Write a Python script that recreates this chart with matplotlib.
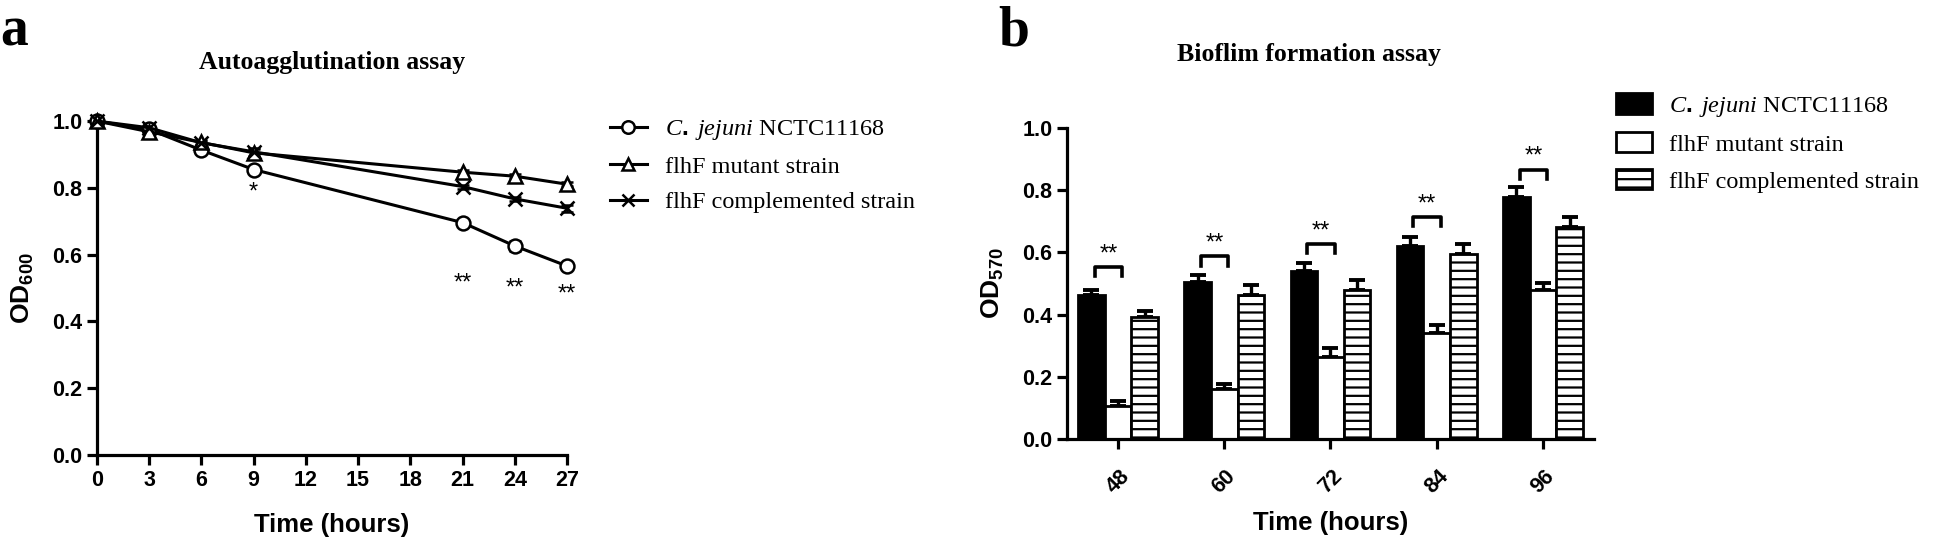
import matplotlib.pyplot as plt
from matplotlib.lines import Line2D
import numpy as np

plt.rcParams['font.family'] = 'Liberation Sans'
plt.rcParams['mathtext.fontset'] = 'custom'
plt.rcParams['mathtext.rm'] = 'Liberation Sans:bold'
plt.rcParams['mathtext.bf'] = 'Liberation Sans:bold'
plt.rcParams['mathtext.it'] = 'Liberation Serif:italic'
plt.rcParams['hatch.linewidth'] = 1.6

# ---- panel a: autoagglutination ----
hours = [0, 3, 6, 9, 21, 24, 27]
wt_od = [1.0, 0.975, 0.913, 0.855, 0.696, 0.626, 0.566]
wt_err = [0.004, 0.005, 0.006, 0.008, 0.008, 0.016, 0.008]
mut_od = [1.0, 0.968, 0.936, 0.905, 0.847, 0.835, 0.811]
mut_err = [0.004, 0.008, 0.006, 0.012, 0.008, 0.006, 0.006]
comp_od = [1.0, 0.98, 0.935, 0.908, 0.804, 0.767, 0.739]
comp_err = [0.004, 0.006, 0.006, 0.012, 0.006, 0.006, 0.010]
sig_a_x = [9, 21, 24, 27]
sig_a_y = [0.785, 0.515, 0.5, 0.48]
sig_a_txt = ['*', '**', '**', '**']

# ---- panel b: biofilm ----
groups = ['48', '60', '72', '84', '96']
wt_bio = [0.463, 0.506, 0.541, 0.621, 0.779]
wt_bio_err = [0.017, 0.021, 0.026, 0.029, 0.031]
mut_bio = [0.106, 0.162, 0.263, 0.340, 0.479]
mut_bio_err = [0.016, 0.016, 0.029, 0.026, 0.024]
comp_bio = [0.393, 0.464, 0.480, 0.596, 0.681]
comp_bio_err = [0.019, 0.031, 0.030, 0.031, 0.031]
bracket_y = [0.553, 0.587, 0.627, 0.714, 0.866]
bracket_txt = ['**', '**', '**', '**', '**']

labels = [r'$C.\ jejuni$ NCTC11168', 'flhF mutant strain', 'flhF complemented strain']

fig = plt.figure(figsize=(19.46, 5.43), dpi=100)
LW = 2.3
LEG_FONT = {'family': 'Liberation Serif', 'size': 17.5}


def style_axes(ax):
    for s in ['top', 'right']:
        ax.spines[s].set_visible(False)
    for s in ['left', 'bottom']:
        ax.spines[s].set_linewidth(LW)
    ax.tick_params(width=LW, length=7, labelsize=15.5)
    for t in ax.get_xticklabels() + ax.get_yticklabels():
        t.set_fontweight('bold')


ax1 = fig.add_axes([0.0498, 0.162, 0.2416, 0.615])
kw = dict(color='black', lw=2.2, ms=10, mfc='white', mew=1.8, capsize=4,
          elinewidth=1.8, capthick=1.8, clip_on=False, zorder=3)
markers = ['o', '^', 'x']
for vals, errs, m in zip([wt_od, mut_od, comp_od], [wt_err, mut_err, comp_err], markers):
    ax1.errorbar(hours, vals, yerr=errs, marker=m, **kw)
for x, y, t in zip(sig_a_x, sig_a_y, sig_a_txt):
    ax1.text(x, y, t, ha='center', va='center', fontsize=17)
ax1.set_xlim(0, 27)
ax1.set_ylim(0, 1.0)
ax1.set_xticks(range(0, 28, 3))
ax1.set_yticks(np.arange(0, 1.01, 0.2))
ax1.yaxis.set_major_formatter(plt.FormatStrFormatter('%.1f'))
ax1.set_xlabel('Time (hours)', fontsize=18.5, fontweight='bold', labelpad=16)
ax1.set_ylabel(r'$\mathbf{OD_{600}}$', fontsize=19, labelpad=12)
style_axes(ax1)
fig.text(0.1706, 0.884, 'Autoagglutination assay', fontsize=18.5, fontweight='bold',
         family='Liberation Serif', ha='center', va='center')
handles = [Line2D([], [], color='black', lw=2.2, marker=m, ms=9, mfc='white', mew=1.8)
           for m in markers]
fig.legend(handles, labels, loc='upper left', bbox_to_anchor=(0.3135, 0.782),
           frameon=False, prop=LEG_FONT, handlelength=1.5, borderpad=0,
           borderaxespad=0, labelspacing=0.55, handletextpad=0.75)
fig.text(0.0, 0.99, 'a', fontsize=40, fontweight='bold', family='Liberation Serif',
         va='top')

# ---- panel b ----
ax2 = fig.add_axes([0.5483, 0.1915, 0.2708, 0.573])
x = np.arange(len(groups))
w = 0.25
bkw = dict(width=w, edgecolor='black', linewidth=2.0, zorder=2)
ax2.bar(x - w, wt_bio, color='black', label=labels[0], **bkw)
ax2.bar(x, mut_bio, color='white', label=labels[1], **bkw)
ax2.bar(x + w, comp_bio, color='white', hatch='--', label=labels[2], **bkw)
ekw = dict(fmt='none', ecolor='black', elinewidth=2.4, capsize=6, capthick=2.8, zorder=1)
for off, vals, errs in [(-w, wt_bio, wt_bio_err), (0, mut_bio, mut_bio_err),
                        (w, comp_bio, comp_bio_err)]:
    ax2.errorbar(x + off, vals, yerr=[np.zeros(len(errs)), errs], **ekw)
for i, (by, t) in enumerate(zip(bracket_y, bracket_txt)):
    x0, x1 = i - 0.22, i + 0.04
    ax2.plot([x0, x0, x1, x1], [by - 0.03, by, by, by - 0.03], color='black', lw=2.6)
    ax2.text((x0 + x1) / 2, by + 0.005, t, ha='center', va='bottom', fontsize=17)
ax2.set_xlim(-0.48, 4.48)
ax2.set_ylim(0, 1.0)
ax2.set_xticks(x)
ax2.set_xticklabels(groups, rotation=45, ha='center')
ax2.set_yticks(np.arange(0, 1.01, 0.2))
ax2.yaxis.set_major_formatter(plt.FormatStrFormatter('%.1f'))
ax2.set_xlabel('Time (hours)', fontsize=18.5, fontweight='bold', labelpad=10)
ax2.set_ylabel(r'$\mathbf{OD_{570}}$', fontsize=19, labelpad=12)
style_axes(ax2)
ax2.tick_params(axis='x', pad=12)
fig.text(0.6727, 0.899, 'Bioflim formation assay', fontsize=18.5, fontweight='bold',
         family='Liberation Serif', ha='center', va='center')
h, l = ax2.get_legend_handles_labels()
fig.legend(h, l, loc='upper left', bbox_to_anchor=(0.8304, 0.828), frameon=False,
           prop=LEG_FONT, handlelength=1.5, handleheight=0.9, borderpad=0,
           borderaxespad=0, labelspacing=0.55, handletextpad=0.7)
fig.text(0.513, 0.99, 'b', fontsize=40, fontweight='bold', family='Liberation Serif',
         va='top')

fig.savefig('out.png', dpi=100)
